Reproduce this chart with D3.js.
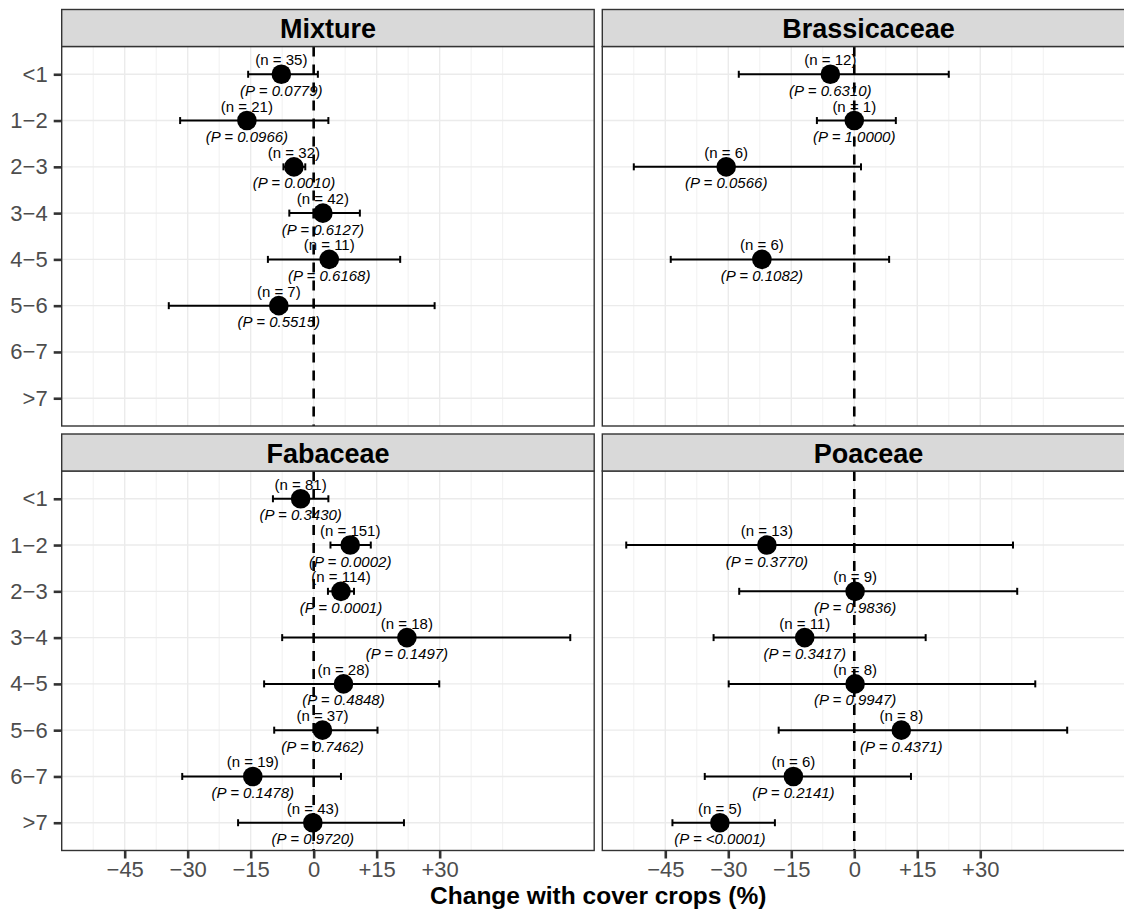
<!DOCTYPE html>
<html>
<head>
<meta charset="utf-8">
<script src="https://cdn.jsdelivr.net/npm/d3@7"></script>
<style>

html, body {
  margin: 0;
  padding: 0;
  overflow: hidden;
  background: #fff;
}

text {
  font-family: "Liberation Sans", Arial, Helvetica, sans-serif;
}

.grid-major { stroke: #ebebeb; stroke-width: 1.4; }
.grid-minor { stroke: #ebebeb; stroke-width: 0.7; }
.axis .domain { display: none; }
.axis line { stroke: #333; stroke-width: 2.6; }
.axis text { fill: #4d4d4d; font-size: 22px; font-family: "Liberation Sans", Arial, sans-serif; }

</style>
</head>
<body>
<script>

// categories (years of cover cropping) and facet names
var categories = ["<1", "1\u22122", "2\u22123", "3\u22124", "4\u22125", "5\u22126", "6\u22127", ">7"];
var panels = ["Mixture", "Brassicaceae", "Fabaceae", "Poaceae"];

var xTicks = [-45, -30, -15, 0, 15, 30];
var xMinor = [-52.5, -37.5, -22.5, -7.5, 7.5, 22.5, 37.5, 45];

// estimates and 95% limits, one slot per category (null = no data)
var mixtureEst  = [-7.7, -15.9, -4.7, 2.2, 3.7, -8.3, null, null];
var mixtureLow  = [-15.6, -31.8, -7.2, -5.8, -10.9, -34.5, null, null];
var mixtureHigh = [1.0, 3.5, -2.0, 11.0, 20.6, 28.8, null, null];
var mixtureN    = [35, 21, 32, 42, 11, 7, null, null];
var mixtureP    = ["0.0779", "0.0966", "0.0010", "0.6127", "0.6168", "0.5515", null, null];

var brassEst  = [-5.7, 0.0, -30.5, null, -22.0, null, null, null];
var brassLow  = [-27.5, -8.9, -52.5, null, -43.7, null, null, null];
var brassHigh = [22.5, 9.9, 1.6, null, 8.3, null, null, null];
var brassN    = [12, 1, 6, null, 6, null, null, null];
var brassP    = ["0.6310", "1.0000", "0.0566", null, "0.1082", null, null, null];

var fabEst  = [-3.1, 8.7, 6.5, 22.2, 7.1, 2.1, -14.5, -0.2];
var fabLow  = [-9.7, 4.0, 3.4, -7.5, -11.8, -9.4, -31.3, -18.0];
var fabHigh = [3.5, 13.6, 9.6, 61.1, 29.9, 15.2, 6.5, 21.5];
var fabN    = [81, 151, 114, 18, 28, 37, 19, 43];
var fabP    = ["0.3430", "0.0002", "0.0001", "0.1497", "0.4848", "0.7462", "0.1478", "0.9720"];

var poaEst  = [null, -20.8, 0.2, -11.8, 0.2, 11.2, -14.5, -32.0];
var poaLow  = [null, -54.3, -27.4, -33.5, -29.9, -18.0, -35.6, -43.3];
var poaHigh = [null, 37.8, 38.8, 17.0, 43.1, 50.7, 13.5, -18.9];
var poaN    = [null, 13, 9, 11, 8, 8, 6, 5];
var poaP    = [null, "0.3770", "0.9836", "0.3417", "0.9947", "0.4371", "0.2141", "<0.0001"];

var series = [
  [mixtureEst, mixtureLow, mixtureHigh, mixtureN, mixtureP],
  [brassEst, brassLow, brassHigh, brassN, brassP],
  [fabEst, fabLow, fabHigh, fabN, fabP],
  [poaEst, poaLow, poaHigh, poaN, poaP]
];

var w = 1124, h = 910;
var svg = d3.select("body").append("svg")
  .attr("width", w)
  .attr("height", h);

var panelW = 532.5,
    panelH = 379.5,
    stripH = 37,
    colX = [61.7, 602.3],
    rowY = [9.5, 434];

var x = d3.scaleLinear().domain([-60, 66.8]).range([0, panelW]);
var y = d3.scalePoint().domain(categories).range([0, panelH]).padding(0.6);

function fmt(d) {
  return d > 0 ? "+" + d : d < 0 ? "\u2212" + Math.abs(d) : "0";
}

panels.forEach(function(name, i) {
  var col = i % 2, row = Math.floor(i / 2);
  var g = svg.append("g")
    .attr("transform", "translate(" + colX[col] + "," + (rowY[row] + stripH) + ")");

  // strip
  var strip = svg.append("g")
    .attr("transform", "translate(" + colX[col] + "," + rowY[row] + ")");
  strip.append("rect")
    .attr("width", panelW).attr("height", stripH)
    .attr("fill", "#d9d9d9").attr("stroke", "#333").attr("stroke-width", 1.4);
  strip.append("text")
    .attr("x", panelW / 2).attr("y", stripH / 2 + 1)
    .attr("text-anchor", "middle").attr("dominant-baseline", "central")
    .style("font-size", "27px").style("font-weight", "bold")
    .text(name);

  // grid
  g.selectAll(".grid-minor").data(xMinor).enter().append("line")
    .attr("class", "grid-minor")
    .attr("x1", x).attr("x2", x).attr("y1", 0).attr("y2", panelH);
  g.selectAll(".grid-major.v").data(xTicks).enter().append("line")
    .attr("class", "grid-major v")
    .attr("x1", x).attr("x2", x).attr("y1", 0).attr("y2", panelH);
  g.selectAll(".grid-major.h").data(categories).enter().append("line")
    .attr("class", "grid-major h")
    .attr("x1", 0).attr("x2", panelW).attr("y1", y).attr("y2", y);

  var s = series[i];
  var rows = categories.map(function(c, k) {
    return { cat: c, est: s[0][k], lo: s[1][k], hi: s[2][k], n: s[3][k], p: s[4][k] };
  }).filter(function(d) { return d.est !== null; });

  // error bars
  var eb = g.selectAll(".eb").data(rows).enter().append("g").attr("class", "eb");
  eb.append("line")
    .attr("x1", function(d) { return x(d.lo); })
    .attr("x2", function(d) { return x(d.hi); })
    .attr("y1", function(d) { return y(d.cat); })
    .attr("y2", function(d) { return y(d.cat); })
    .attr("stroke", "#000").attr("stroke-width", 2);
  ["lo", "hi"].forEach(function(k) {
    eb.append("line")
      .attr("x1", function(d) { return x(d[k]); })
      .attr("x2", function(d) { return x(d[k]); })
      .attr("y1", function(d) { return y(d.cat) - 3.5; })
      .attr("y2", function(d) { return y(d.cat) + 3.5; })
      .attr("stroke", "#000").attr("stroke-width", 2);
  });

  // zero line
  g.append("line")
    .attr("x1", x(0)).attr("x2", x(0)).attr("y1", 0).attr("y2", panelH)
    .attr("stroke", "#000").attr("stroke-width", 2.6)
    .attr("stroke-dasharray", "10,8");

  // points
  g.selectAll("circle").data(rows).enter().append("circle")
    .attr("cx", function(d) { return x(d.est); })
    .attr("cy", function(d) { return y(d.cat); })
    .attr("r", 9.8)
    .attr("fill", "#000");

  // labels
  g.selectAll(".nlab").data(rows).enter().append("text")
    .attr("class", "nlab")
    .attr("x", function(d) { return x(d.est); })
    .attr("y", function(d) { return y(d.cat) - 14.5; })
    .attr("text-anchor", "middle").attr("dominant-baseline", "central")
    .style("font-size", "15px")
    .text(function(d) { return "(n = " + d.n + ")"; });
  g.selectAll(".plab").data(rows).enter().append("text")
    .attr("class", "plab")
    .attr("x", function(d) { return x(d.est); })
    .attr("y", function(d) { return y(d.cat) + 16; })
    .attr("text-anchor", "middle").attr("dominant-baseline", "central")
    .style("font-size", "15px").style("font-style", "italic")
    .text(function(d) { return "(P = " + d.p + ")"; });

  // panel border
  g.append("rect")
    .attr("width", panelW).attr("height", panelH)
    .attr("fill", "none").attr("stroke", "#333").attr("stroke-width", 1.4);

  // axes
  if (col === 0) {
    g.append("g").attr("class", "axis")
      .call(d3.axisLeft(y).tickSize(8).tickPadding(6));
  }
  if (row === 1) {
    g.append("g").attr("class", "axis")
      .attr("transform", "translate(0," + panelH + ")")
      .call(d3.axisBottom(x).tickValues(xTicks).tickFormat(fmt).tickSize(8).tickPadding(3));
  }
});

// x axis title
svg.append("text")
  .attr("x", (colX[0] + colX[1] + panelW) / 2)
  .attr("y", 904)
  .attr("text-anchor", "middle")
  .style("font-size", "24.5px").style("font-weight", "bold")
  .text("Change with cover crops (%)");

</script>
</body>
</html>
